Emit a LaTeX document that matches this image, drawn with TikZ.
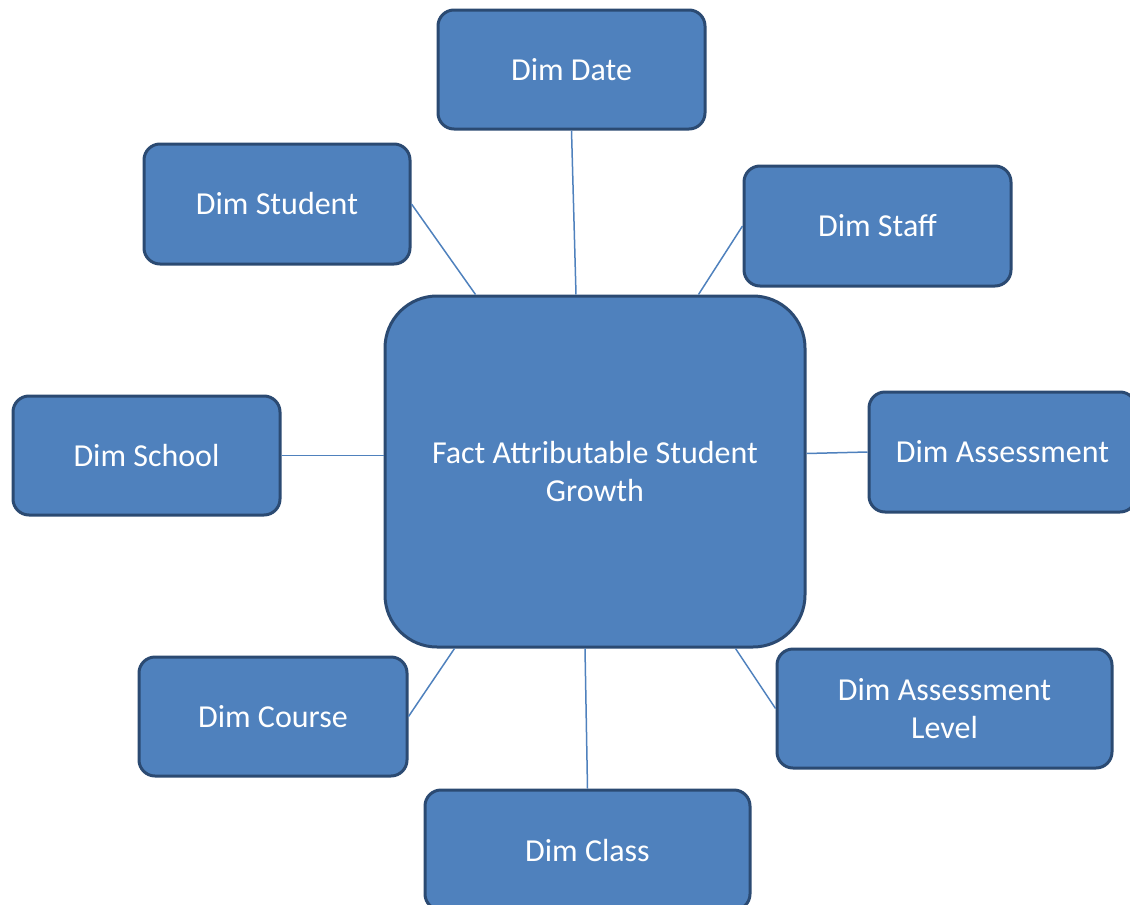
\documentclass[tikz,border=0pt]{standalone}
\usepackage{fontspec}
\setmainfont{Carlito}
\begin{document}
\begin{tikzpicture}[x=1pt,y=-1pt,
  dimbox/.style={draw=boxline, fill=boxfill, line width=3pt, rounded corners=16pt,
    text=white, align=center, inner sep=0pt, font=\fontsize{32}{38}\selectfont},
  link/.style={draw=boxfill, line width=1.5pt}]
\definecolor{boxfill}{HTML}{4F81BD}
\definecolor{boxline}{HTML}{2B4A72}
\useasboundingbox (0,0) rectangle (1130,905);
\clip (0,0) rectangle (1130,905);
\node[dimbox, rounded corners=52pt, minimum width=420pt, minimum height=351pt] (fact) at (595,471.5) {Fact Attributable Student\\Growth};
\node[dimbox, minimum width=267pt, minimum height=119pt] (date) at (571.5,69.5) {Dim Date};
\node[dimbox, minimum width=266pt, minimum height=120pt] (student) at (277,204) {Dim Student};
\node[dimbox, minimum width=267pt, minimum height=120pt] (staff) at (877.5,226) {Dim Staff};
\node[dimbox, minimum width=267pt, minimum height=119pt] (school) at (146.5,455.5) {Dim School};
\node[dimbox, minimum width=267pt, minimum height=120pt] (assess) at (1002.5,452) {Dim Assessment};
\node[dimbox, minimum width=268pt, minimum height=119pt] (course) at (273,716.5) {Dim Course};
\node[dimbox, minimum width=335pt, minimum height=119pt] (level) at (944.5,708.5) {Dim Assessment\\Level};
\node[dimbox, minimum width=325pt, minimum height=120pt] (class) at (587.5,850) {Dim Class};
\draw[link] (date.south) -- ([xshift=-19pt]fact.north);
\draw[link] (student.east) -- ([xshift=92pt]fact.north west);
\draw[link] (staff.west) -- ([xshift=-108pt]fact.north east);
\draw[link] (school.east) -- ([yshift=16pt]fact.west);
\draw[link] (assess.west) -- ([yshift=18pt]fact.east);
\draw[link] (course.east) -- ([xshift=71pt]fact.south west);
\draw[link] (level.west) -- ([xshift=-71pt]fact.south east);
\draw[link] (class.north) -- ([xshift=-10pt]fact.south);
\end{tikzpicture}
\end{document}
